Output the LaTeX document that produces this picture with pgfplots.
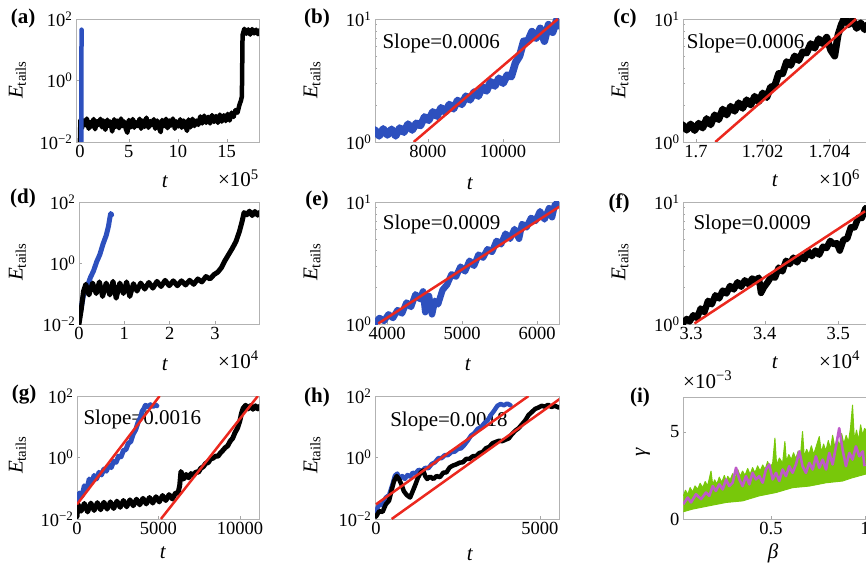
\documentclass[border=0pt]{standalone}
\usepackage{fontspec}
\setmainfont{Liberation Serif}
\usepackage{pgfplots}
\pgfplotsset{compat=1.18}
\definecolor{cblue}{RGB}{45,80,190}
\definecolor{cred}{RGB}{235,40,30}
\definecolor{cgreen}{RGB}{120,200,10}
\definecolor{cmag}{RGB}{190,90,200}
\newcommand\tk{\fontsize{18.5}{20}\selectfont}
\newcommand\lb{\fontsize{21}{24}\selectfont}
\pgfplotsset{
  pan/.style={scale only axis, anchor=south west, scaled ticks=false,
    axis line style={draw=gray!60, line width=0.6pt},
    every tick/.style={draw=gray!70, line width=0.4pt},
    major tick length=3pt, minor tick length=1.8pt,
    tick pos=left, tick align=inside,
    ticklabel style={font=\tk}}}
\tikzset{band/.style={line join=round, line cap=round},
  slope/.style={font=\lb, anchor=west, inner sep=0pt}}
\begin{document}
\begin{tikzpicture}[x=1pt,y=1pt]
\useasboundingbox (0,0) rectangle (866,563);

% ---------------- (a)
\begin{axis}[pan, ymode=log, ymin=0.01, ymax=100, ytick={0.01,1,100},
  yticklabels={10\textsuperscript{−2},10\textsuperscript{0},10\textsuperscript{2}},
  at={(76pt,421pt)}, width=183pt, height=123pt,
  xmin=-0.4, xmax=18.3, xtick={0,5,10,15}, xticklabels={0,5,10,15}]
\addplot[band, black, line width=4.5pt] coordinates {
(0,0.01) (0.05,0.05) (0.2,0.028) (0.4,0.05) (0.55,0.035) (0.7,0.058) (0.9,0.027) (1.05,0.045)
(1.2,0.032) (1.4,0.056) (1.55,0.026) (1.75,0.048) (1.9,0.036) (2.1,0.057) (2.25,0.03) (2.4,0.05)
(2.6,0.025) (2.8,0.053) (2.95,0.034) (3.1,0.046) (3.3,0.022) (3.5,0.055) (3.65,0.031) (3.8,0.05)
(4.0,0.028) (4.2,0.058) (4.35,0.033) (4.5,0.047) (4.7,0.026) (4.85,0.02) (5.0,0.052) (5.2,0.03)
(5.4,0.056) (5.55,0.029) (5.7,0.045) (5.9,0.033) (6.1,0.057) (6.25,0.027) (6.45,0.05) (6.6,0.031)
(6.8,0.062) (7.0,0.029) (7.2,0.048) (7.35,0.035) (7.55,0.055) (7.7,0.027) (7.9,0.05) (8.05,0.03)
(8.25,0.021) (8.4,0.052) (8.6,0.033) (8.8,0.057) (8.95,0.028) (9.15,0.05) (9.3,0.034) (9.5,0.058)
(9.7,0.027) (9.85,0.047) (10.05,0.032) (10.25,0.055) (10.4,0.029) (10.6,0.05) (10.8,0.031)
(10.95,0.023) (11.1,0.054) (11.3,0.03) (11.5,0.057) (11.7,0.033) (11.9,0.05) (12.1,0.036)
(12.3,0.068) (12.5,0.04) (12.7,0.072) (12.9,0.042) (13.1,0.066) (13.3,0.04) (13.5,0.075)
(13.7,0.045) (13.9,0.07) (14.1,0.042) (14.3,0.078) (14.5,0.046) (14.7,0.074) (14.9,0.048)
(15.1,0.082) (15.3,0.05) (15.5,0.09) (15.7,0.065) (15.9,0.11) (16.1,0.09) (16.3,0.16)
(16.45,0.22) (16.55,0.3) (16.62,30) (16.8,48) (17.0,33) (17.2,46) (17.4,31) (17.6,47) (17.8,34)
(18.0,45) (18.2,32) (18.4,44)};
\addplot[band, cblue, line width=4.5pt] coordinates {(0.15,0.009) (0.15,2) (0.17,45)};
\end{axis}

% ---------------- (b)
\begin{axis}[pan, ymode=log, ymin=1, ymax=10, ytick={1,10}, minor ytick={2,3,4,5,6,7,8,9},
  yticklabels={10\textsuperscript{0},10\textsuperscript{1}},
  at={(375pt,421pt)}, width=184pt, height=123pt,
  xmin=6590, xmax=11490, xtick={8000,10000}, xticklabels={8000,10000}]
\node[slope] at (rel axis cs:0.04,0.80) {Slope=0.0006};
\addplot[band, cblue, line width=7.5pt] coordinates {
(6590,1.25) (6700,1.12) (6810,1.28) (6920,1.14) (7030,1.27) (7140,1.12) (7250,1.30) (7360,1.20)
(7470,1.40) (7580,1.25) (7690,1.42) (7800,1.36) (7910,1.60) (8020,1.50) (8130,1.76) (8240,1.62)
(8350,1.90) (8460,1.75) (8570,2.02) (8680,1.86) (8790,2.18) (8900,2.02) (9010,2.36) (9120,2.2)
(9230,2.55) (9340,2.36) (9450,2.8) (9560,2.6) (9670,3.1) (9780,2.85) (9890,3.3) (10000,3.0)
(10110,3.5) (10220,3.4) (10330,4.4) (10440,5.0) (10550,6.6) (10660,6.6) (10770,7.9) (10880,7.0)
(10990,8.4) (11100,6.6) (11210,9.0) (11320,7.8) (11430,9.8) (11500,8.8)};
\addplot[cred, line width=2.5pt] coordinates {(7620,1.0) (11458,10.0)};
\end{axis}

% ---------------- (c)
\begin{axis}[pan, ymode=log, ymin=1, ymax=10, ytick={1,10}, minor ytick={2,3,4,5,6,7,8,9},
  yticklabels={10\textsuperscript{0},10\textsuperscript{1}},
  at={(683pt,421pt)}, width=184pt, height=123pt,
  xmin=1699.61, xmax=1705.13, xtick={1700,1702,1704}, xticklabels={1.7,1.702,1.704}]
\node[slope] at (rel axis cs:0.02,0.80) {Slope=0.0006};
\addplot[band, black, line width=7pt] coordinates {
(1699.60,1.38) (1699.72,1.25) (1699.84,1.40) (1699.96,1.24) (1700.08,1.42) (1700.20,1.30)
(1700.32,1.55) (1700.44,1.38) (1700.56,1.66) (1700.68,1.52) (1700.80,1.85) (1700.92,1.66)
(1701.04,1.95) (1701.16,1.78) (1701.28,2.08) (1701.40,1.88) (1701.52,2.2) (1701.64,2.0)
(1701.76,2.35) (1701.88,2.12) (1702.00,2.5) (1702.12,2.3) (1702.24,2.8) (1702.36,2.85)
(1702.48,3.6) (1702.60,3.6) (1702.72,4.5) (1702.84,4.2) (1702.96,5.0) (1703.08,4.6)
(1703.20,5.4) (1703.32,5.3) (1703.44,6.3) (1703.56,5.8) (1703.68,6.9) (1703.80,6.3)
(1703.92,7.1) (1704.04,5.6) (1704.16,5.0) (1704.26,7.4) (1704.36,9.0) (1704.46,10.3)
(1704.58,9.0) (1704.70,9.8) (1704.82,8.4) (1704.94,9.3) (1705.06,8.2) (1705.15,9.0)};
\addplot[cred, line width=2.5pt] coordinates {(1700.58,1.0) (1704.80,10.0)};
\end{axis}

% ---------------- (d)
\begin{axis}[pan, ymode=log, ymin=0.01, ymax=100, ytick={0.01,1,100},
  yticklabels={10\textsuperscript{−2},10\textsuperscript{0},10\textsuperscript{2}},
  at={(79pt,239pt)}, width=180pt, height=122pt,
  xmin=0, xmax=3.97, xtick={0,1,2,3}, xticklabels={0,1,2,3}]
\addplot[band, cblue, line width=5pt] coordinates {
(0.02,0.02) (0.1,0.09) (0.17,0.15) (0.25,0.33) (0.32,0.55) (0.39,1.1) (0.46,1.9) (0.53,4.2)
(0.6,8) (0.65,16) (0.68,30) (0.7,42) (0.72,38)};
\addplot[band, black, line width=5pt] coordinates {
(0,0.01) (0.05,0.03) (0.1,0.12) (0.15,0.2) (0.22,0.09) (0.3,0.22) (0.38,0.1) (0.45,0.24)
(0.52,0.08) (0.6,0.22) (0.68,0.09) (0.75,0.25) (0.82,0.07) (0.9,0.22) (0.98,0.1) (1.05,0.24)
(1.12,0.08) (1.2,0.21) (1.28,0.12) (1.36,0.22) (1.45,0.14) (1.54,0.23) (1.63,0.15) (1.72,0.25)
(1.81,0.17) (1.9,0.27) (1.99,0.18) (2.08,0.26) (2.17,0.18) (2.26,0.26) (2.35,0.19) (2.44,0.27)
(2.53,0.2) (2.62,0.3) (2.71,0.24) (2.8,0.36) (2.89,0.3) (2.98,0.42) (3.06,0.5) (3.14,0.7)
(3.22,1.2) (3.3,1.9) (3.38,3.0) (3.46,5) (3.54,11) (3.6,24) (3.64,45) (3.7,38) (3.76,50)
(3.82,36) (3.88,49) (3.94,37) (4.0,47)};
\end{axis}

% ---------------- (e)
\begin{axis}[pan, ymode=log, ymin=1, ymax=10, ytick={1,10}, minor ytick={2,3,4,5,6,7,8,9},
  yticklabels={10\textsuperscript{0},10\textsuperscript{1}},
  at={(375pt,239pt)}, width=184pt, height=122pt,
  xmin=3840, xmax=6293, xtick={4000,5000,6000}, xticklabels={4000,5000,6000}]
\node[slope] at (rel axis cs:0.042,0.82) {Slope=0.0009};
\addplot[band, cblue, line width=6.5pt] coordinates {
(3840,1.02) (3900,1.12) (3960,1.06) (4020,1.2) (4080,1.12) (4140,1.3) (4200,1.22) (4260,1.5)
(4320,1.38) (4380,1.75) (4440,1.6) (4480,1.85) (4510,1.25) (4560,1.7) (4600,1.2) (4640,1.55)
(4680,1.45) (4740,1.9) (4800,2.1) (4860,2.55) (4920,2.45) (4980,2.95) (5040,2.7) (5100,3.3)
(5160,3.0) (5220,3.7) (5280,3.5) (5340,4.1) (5400,3.9) (5460,4.8) (5520,4.5) (5580,5.5)
(5640,5.0) (5700,6.0) (5760,5.0) (5800,6.6) (5860,6.2) (5920,7.4) (5980,7.0) (6040,8.4)
(6100,7.2) (6160,8.9) (6200,7.5) (6240,9.6) (6300,9.8)};
\addplot[cred, line width=2.5pt] coordinates {(3884,1.01) (6297,9.15)};
\end{axis}

% ---------------- (f)
\begin{axis}[pan, ymode=log, ymin=1, ymax=10, ytick={1,10}, minor ytick={2,3,4,5,6,7,8,9},
  yticklabels={10\textsuperscript{0},10\textsuperscript{1}},
  at={(683pt,239pt)}, width=184pt, height=122pt,
  xmin=3.289, xmax=3.539, xtick={3.3,3.4,3.5}, xticklabels={3.3,3.4,3.5}]
\node[slope] at (rel axis cs:0.056,0.82) {Slope=0.0009};
\addplot[band, black, line width=6.5pt] coordinates {
(3.289,1.02) (3.294,1.1) (3.298,1.05) (3.303,1.18) (3.308,1.12) (3.313,1.34) (3.318,1.25)
(3.323,1.55) (3.328,1.45) (3.333,1.72) (3.338,1.62) (3.343,1.88) (3.348,1.78) (3.353,2.05)
(3.358,1.92) (3.363,2.2) (3.368,2.02) (3.373,2.28) (3.378,2.12) (3.383,2.36) (3.388,2.25)
(3.392,2.4) (3.395,1.8) (3.399,2.0) (3.404,2.2) (3.409,2.45) (3.414,2.4) (3.419,2.9)
(3.424,2.7) (3.429,3.3) (3.434,3.1) (3.439,3.5) (3.444,3.2) (3.449,3.6) (3.454,3.4)
(3.459,3.95) (3.464,3.6) (3.469,4.0) (3.474,3.7) (3.479,4.3) (3.484,4.2) (3.489,4.8)
(3.494,4.5) (3.498,4.6) (3.502,4.0) (3.507,4.9) (3.512,5.0) (3.517,6.2) (3.522,6.2)
(3.527,7.4) (3.532,7.4) (3.537,8.9) (3.540,8.6)};
\addplot[cred, line width=2.5pt] coordinates {(3.3045,1.01) (3.5363,8.4)};
\end{axis}

% ---------------- (g)
\begin{axis}[pan, ymode=log, ymin=0.01, ymax=100, ytick={0.01,1,100},
  yticklabels={10\textsuperscript{−2},10\textsuperscript{0},10\textsuperscript{2}},
  at={(77pt,44pt)}, width=182pt, height=123pt,
  xmin=0, xmax=11170, xtick={0,5000,10000}, xticklabels={0,5000,10000}]
\node[slope] at (rel axis cs:0.035,0.81) {Slope=0.0016};
\addplot[band, cblue, line width=5pt] coordinates {
(0,0.04) (150,0.07) (300,0.055) (450,0.12) (600,0.09) (750,0.2) (900,0.15) (1050,0.26)
(1200,0.2) (1350,0.33) (1500,0.27) (1650,0.42) (1800,0.36) (1950,0.55) (2100,0.47) (2250,0.75)
(2400,0.7) (2550,1.1) (2700,1.05) (2850,1.7) (3000,1.8) (3150,2.9) (3300,3.3) (3450,5.8)
(3600,8) (3750,14) (3900,20) (4000,32) (4100,38) (4200,50) (4350,44) (4500,52) (4650,45)
(4800,52) (4900,48)};
\addplot[band, black, line width=5pt] coordinates {
(0,0.012) (60,0.03) (250,0.018) (450,0.032) (650,0.017) (850,0.033) (1050,0.019) (1250,0.034)
(1450,0.02) (1650,0.035) (1850,0.021) (2050,0.036) (2250,0.022) (2450,0.038) (2650,0.024)
(2850,0.04) (3050,0.025) (3250,0.042) (3450,0.027) (3650,0.044) (3850,0.029) (4050,0.047)
(4250,0.031) (4450,0.05) (4650,0.033) (4850,0.053) (5050,0.036) (5250,0.058) (5450,0.04)
(5650,0.062) (5850,0.045) (6050,0.07) (6200,0.07) (6300,0.12) (6380,0.35) (6450,0.28)
(6550,0.2) (6700,0.28) (6850,0.22) (7000,0.3) (7150,0.26) (7300,0.34) (7450,0.33) (7600,0.45)
(7750,0.5) (7900,0.65) (8050,0.68) (8200,0.9) (8350,0.95) (8500,1.1) (8650,1.1) (8800,1.4)
(8950,1.7) (9100,2.1) (9250,2.4) (9400,3.4) (9550,4.2) (9700,6.5) (9850,9) (10000,16)
(10100,28) (10200,40) (10350,50) (10500,38) (10650,49) (10800,37) (10950,48) (11100,38)
(11200,46)};
\addplot[cred, line width=2.5pt] coordinates {(0,0.03) (5070,100)};
\addplot[cred, line width=2.5pt] coordinates {(5150,0.01) (11100,100)};
\end{axis}

% ---------------- (h)
\begin{axis}[pan, ymode=log, ymin=0.01, ymax=100, ytick={0.01,1,100},
  yticklabels={10\textsuperscript{−2},10\textsuperscript{0},10\textsuperscript{2}},
  at={(375pt,44pt)}, width=184pt, height=123pt,
  xmin=-30, xmax=5580, xtick={0,5000}, xticklabels={0,5000}]
\node[slope] at (rel axis cs:0.082,0.79) {Slope=0.0018};
\addplot[band, cblue, line width=4.5pt] coordinates {
(0,0.018) (100,0.03) (200,0.028) (300,0.05) (400,0.06) (500,0.13) (580,0.26) (650,0.3)
(720,0.2) (800,0.25) (880,0.2) (960,0.27) (1040,0.24) (1120,0.32) (1200,0.3) (1300,0.4)
(1400,0.36) (1500,0.46) (1600,0.45) (1700,0.62) (1800,0.7) (1900,0.95) (2000,0.95) (2100,1.2)
(2200,1.2) (2300,1.5) (2400,1.55) (2500,1.9) (2600,2.0) (2700,2.6) (2800,3.6) (2900,5.2)
(3000,6.2) (3100,8.6) (3200,9.5) (3300,13) (3400,16) (3500,24) (3600,33) (3700,48) (3800,55)
(3900,50) (4000,57) (4100,50)};
\addplot[band, black, line width=4.5pt] coordinates {
(0,0.012) (100,0.018) (200,0.017) (300,0.03) (400,0.04) (480,0.09) (550,0.17) (630,0.25)
(700,0.2) (780,0.13) (850,0.08) (940,0.06) (1040,0.05) (1120,0.08) (1200,0.13) (1280,0.22)
(1360,0.32) (1440,0.38) (1500,0.25) (1560,0.2) (1650,0.24) (1750,0.2) (1850,0.25) (1950,0.23)
(2050,0.32) (2150,0.33) (2250,0.48) (2350,0.55) (2450,0.6) (2550,0.68) (2650,0.7) (2750,0.9)
(2850,0.9) (2950,1.1) (3050,1.1) (3150,1.4) (3250,1.5) (3350,2.0) (3450,2.2) (3550,2.9)
(3650,3.2) (3750,3.5) (3850,3.4) (3950,3.8) (4050,4.2) (4150,5.8) (4250,7.5) (4350,9)
(4450,12) (4550,16) (4650,24) (4750,30) (4850,38) (4950,42) (5050,48) (5150,45) (5250,52)
(5350,44) (5450,48) (5580,42)};
\addplot[cred, line width=2.5pt] coordinates {(0,0.03) (4650,100)};
\addplot[cred, line width=2.5pt] coordinates {(478,0.01) (5600,80)};
\end{axis}

% ---------------- (i)
\begin{axis}[pan, at={(683pt,44pt)}, width=184pt, height=122pt,
  xmin=0.032, xmax=1.011, ymin=0, ymax=7, xtick={0.5,1}, xticklabels={0.5,1},
  ytick={0,5}, yticklabels={0,5}]
\addplot[cgreen, fill=cgreen, line width=1pt, line join=round] coordinates {
(0.034,1.33) (0.045,1.65) (0.057,1.4) (0.07,1.8) (0.083,1.55) (0.096,1.9) (0.11,1.7) (0.123,2.05)
(0.137,1.8) (0.15,2.15) (0.163,1.9) (0.181,2.75) (0.19,1.95) (0.2,2.25) (0.212,2.0) (0.225,2.4)
(0.238,2.1) (0.252,2.5) (0.262,2.15) (0.27,2.45) (0.283,2.25) (0.296,2.6) (0.31,2.35) (0.323,2.85)
(0.336,2.45) (0.349,2.75) (0.362,2.5) (0.376,2.9) (0.389,2.55) (0.402,2.95) (0.415,2.65)
(0.429,3.05) (0.442,2.75) (0.456,3.1) (0.469,2.85) (0.482,3.3) (0.495,2.95) (0.509,3.2)
(0.521,4.64) (0.53,3.1) (0.545,3.5) (0.562,3.2) (0.574,4.45) (0.582,3.3) (0.595,3.7) (0.608,3.4)
(0.62,3.8) (0.632,3.45) (0.645,3.9) (0.656,3.5) (0.668,5.02) (0.677,3.6) (0.69,4.0) (0.702,3.7)
(0.715,4.2) (0.727,3.7) (0.739,4.1) (0.757,4.73) (0.768,3.8) (0.78,4.3) (0.792,3.9) (0.805,4.5)
(0.817,4.0) (0.828,4.8) (0.84,4.1) (0.852,4.6) (0.864,4.2) (0.876,4.9) (0.888,4.3) (0.9,4.8)
(0.912,4.4) (0.923,5.2) (0.934,6.53) (0.944,4.5) (0.955,5.1) (0.966,4.5) (0.977,5.4) (0.988,4.8)
(0.998,5.2) (1.011,5.0)
(1.011,2.6) (0.998,2.56) (0.934,2.37) (0.881,2.18) (0.793,2.08) (0.704,1.89) (0.615,1.80)
(0.527,1.52) (0.438,1.33) (0.349,1.04) (0.261,0.95) (0.172,0.76) (0.0833,0.57) (0.034,0.42)};
\addplot[cmag, line width=2.6pt, line join=round, no markers] coordinates {
(0.0337,0.85) (0.0567,1.23) (0.0745,0.95) (0.101,1.42) (0.128,1.14) (0.154,1.52) (0.172,1.33)
(0.190,1.89) (0.207,1.61) (0.225,1.99) (0.243,1.70) (0.261,2.27) (0.278,1.89) (0.296,2.08)
(0.314,2.94) (0.332,2.27) (0.349,1.89) (0.367,2.46) (0.385,1.99) (0.402,2.65) (0.420,2.27)
(0.438,2.46) (0.456,2.08) (0.473,2.84) (0.491,3.13) (0.509,2.27) (0.527,2.65) (0.544,2.18)
(0.562,2.84) (0.580,2.46) (0.597,3.03) (0.615,2.65) (0.633,3.13) (0.651,3.88) (0.668,3.03)
(0.686,2.65) (0.704,3.22) (0.722,2.84) (0.739,3.60) (0.757,2.94) (0.775,3.41) (0.793,2.84)
(0.810,3.79) (0.828,3.13) (0.846,4.17) (0.863,5.21) (0.881,3.98) (0.899,3.03) (0.917,3.79)
(0.934,3.41) (0.952,4.17) (0.970,3.60) (0.988,3.88) (0.998,3.03)};
\end{axis}

% ---------------- labels
\begin{scope}[every node/.style={font=\lb}]
\node[font=\lb\bfseries] at (23,545) {(a)};
\node[font=\lb\bfseries] at (317,545) {(b)};
\node[font=\lb\bfseries] at (625,545) {(c)};
\node[font=\lb\bfseries] at (23,365) {(d)};
\node[font=\lb\bfseries] at (317,363) {(e)};
\node[font=\lb\bfseries] at (619,360) {(f)};
\node[font=\lb\bfseries] at (24,168) {(g)};
\node[font=\lb\bfseries] at (317,166) {(h)};
\node[font=\lb\bfseries] at (640,166) {(i)};
\foreach \x/\y in {17.5/483, 312/483, 620/483, 17.5/301, 312/301, 620/301, 17.5/108, 312/108}
  \node[rotate=90] at (\x,\y) {\textit{E}\textsubscript{tails}};
\node[rotate=90] at (643,111) {\textit{γ}};
\foreach \x/\y in {165/375, 470/373, 775/376, 165/193, 468/193, 775/195, 163/5, 470/3}
  \node[anchor=base, inner sep=0pt] at (\x,\y) {\textit{t}};
\node[anchor=base, inner sep=0pt] at (773,5) {\textit{β}};
\node[anchor=base east, inner sep=0pt] at (259,376) {×10\textsuperscript{5}};
\node[anchor=base west, inner sep=0pt] at (819,376) {×10\textsuperscript{6}};
\node[anchor=base east, inner sep=0pt] at (259,195) {×10\textsuperscript{4}};
\node[anchor=base west, inner sep=0pt] at (819,195) {×10\textsuperscript{4}};
\node[anchor=base west, inner sep=0pt] at (683,175) {×10\textsuperscript{−3}};
\end{scope}
\end{tikzpicture}
\end{document}
